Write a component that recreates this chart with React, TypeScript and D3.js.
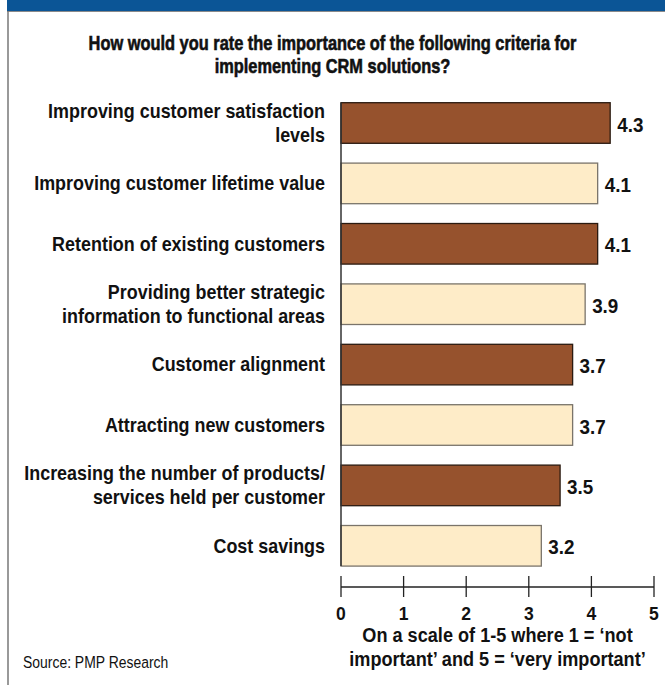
import React from "react";
import * as d3 from "d3";

const categories: string[][] = [
  ["Improving customer satisfaction", "levels"],
  ["Improving customer lifetime value"],
  ["Retention of existing customers"],
  ["Providing better strategic", "information to functional areas"],
  ["Customer alignment"],
  ["Attracting new customers"],
  ["Increasing the number of products/", "services held per customer"],
  ["Cost savings"],
];
const values: number[] = [4.3, 4.1, 4.1, 3.9, 3.7, 3.7, 3.5, 3.2];
const tickValues: number[] = [0, 1, 2, 3, 4, 5];
const titleLines: string[] = [
  "How would you rate the importance of the following criteria for",
  "implementing CRM solutions?",
];
const axisTitleLines: string[] = [
  "On a scale of 1-5 where 1 = \u2018not",
  "important\u2019 and 5 = \u2018very important\u2019",
];
const sourceText = "Source: PMP Research";

const W = 665;
const H = 685;
const FONT = "'Liberation Sans', Arial, Helvetica, sans-serif";
const BROWN = "#96522d";
const CREAM = "#feecc8";

type TProps = {
  x: number;
  y: number;
  sx: number;
  size: number;
  weight?: number;
  anchor?: "start" | "middle" | "end";
  children: React.ReactNode;
  heavy?: boolean;
};

function T({ x, y, sx, size, weight = 700, anchor = "start", children, heavy }: TProps) {
  return (
    <text
      transform={`translate(${x},${y}) scale(${sx},1)`}
      textAnchor={anchor}
      fontSize={size}
      fontWeight={weight}
      fill="#111"
      stroke={heavy ? "#111" : "none"}
      strokeWidth={heavy ? 0.6 : 0}
    >
      {children}
    </text>
  );
}

export default function App() {
  const x = d3.scaleLinear().domain([0, 5]).range([341, 654]);
  const y = d3
    .scaleBand<number>()
    .domain(d3.range(values.length))
    .range([92.8, 576])
    .paddingInner(0.328)
    .paddingOuter(0.164);
  const axisY = 587;

  return (
    <svg
      width={W}
      height={H}
      style={{ position: "absolute", left: 0, top: 0, background: "#fff" }}
      fontFamily={FONT}
    >
      <rect x={0} y={0} width={W} height={H} fill="#fff" />
      {/* banner */}
      <rect x={7} y={0} width={W - 7} height={11} fill="#0b5596" />
      <line x1={7} x2={W} y1={11.5} y2={11.5} stroke="#8a8a8a" strokeWidth={1} />
      {/* left frame */}
      <line x1={8} x2={8} y1={11} y2={H} stroke="#777" strokeWidth={1.5} />

      {/* title */}
      {titleLines.map((t, i) => (
        <T key={i} x={332.5} y={49.5 + i * 23.5} sx={0.82} size={20} anchor="middle" heavy>
          {t}
        </T>
      ))}

      {/* bars */}
      {values.map((v, i) => {
        const by = y(i)!;
        const isBrown = i % 2 === 0;
        return (
          <g key={i}>
            <rect
              x={x(0)}
              y={by}
              width={x(v) - x(0)}
              height={y.bandwidth()}
              fill={isBrown ? BROWN : CREAM}
              stroke={isBrown ? "#2a1a10" : "#7a746a"}
              strokeWidth={1.3}
            />
            <T x={x(v) + 7} y={by + y.bandwidth() / 2 + 8.5} sx={0.92} size={20.5}>
              {v.toFixed(1)}
            </T>
          </g>
        );
      })}

      {/* category labels */}
      {categories.map((lines, i) => {
        const cy = y(i)! + y.bandwidth() / 2;
        const n = lines.length;
        return (
          <g key={i}>
            {lines.map((l, j) => (
              <T
                key={j}
                x={325}
                y={cy + 6.75 + (j - (n - 1) / 2) * 23.5}
                sx={0.92}
                size={19.5}
                anchor="end"
              >
                {l}
              </T>
            ))}
          </g>
        );
      })}

      {/* vertical axis line */}
      <line
        x1={x(0)}
        x2={x(0)}
        y1={y(0)!}
        y2={y(values.length - 1)! + y.bandwidth()}
        stroke="#333"
        strokeWidth={1.5}
      />

      {/* x axis */}
      <line x1={x(0)} x2={x(5)} y1={axisY} y2={axisY} stroke="#222" strokeWidth={1.3} />
      {tickValues.map((t) => (
        <g key={t}>
          <line x1={x(t)} x2={x(t)} y1={576} y2={597} stroke="#222" strokeWidth={1.3} />
          <T x={x(t)} y={619.5} sx={0.95} size={18.5} anchor="middle">
            {t}
          </T>
        </g>
      ))}

      {axisTitleLines.map((t, i) => (
        <T key={i} x={(x(0) + x(5)) / 2} y={642 + i * 24} sx={0.93} size={19.5} anchor="middle">
          {t}
        </T>
      ))}

      <T x={23} y={667.5} sx={0.82} size={17} weight={400}>
        {sourceText}
      </T>
    </svg>
  );
}
